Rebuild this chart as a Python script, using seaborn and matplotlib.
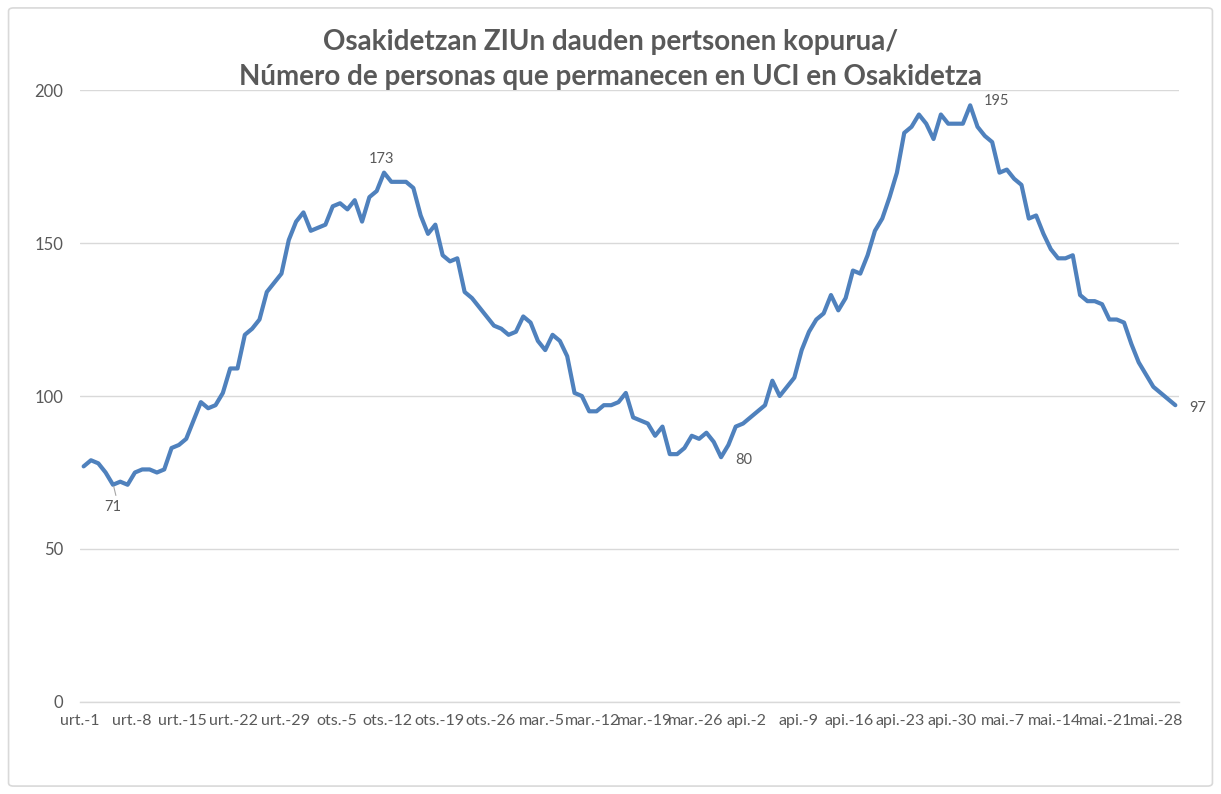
import numpy as np
import pandas as pd
import matplotlib
matplotlib.use("Agg")
import matplotlib.pyplot as plt
import seaborn as sns
from matplotlib.patches import FancyBboxPatch

# Datos: personas en UCI, un valor por dia desde el 1 de enero
fechas = pd.date_range("2021-01-01", periods=150, freq="D")
uci = [77, 79, 78, 75, 71, 72, 71, 75, 76, 76,
       75, 76, 83, 84, 86, 92, 98, 96, 97, 101,
       109, 109, 120, 122, 125, 134, 137, 140, 151, 157,
       160, 154, 155, 156, 162, 163, 161, 164, 157, 165,
       167, 173, 170, 170, 170, 168, 159, 153, 156, 146,
       144, 145, 134, 132, 129, 126, 123, 122, 120, 121,
       126, 124, 118, 115, 120, 118, 113, 101, 100, 95,
       95, 97, 97, 98, 101, 93, 92, 91, 87, 90,
       81, 81, 83, 87, 86, 88, 85, 80, 84, 90,
       91, 93, 95, 97, 105, 100, 103, 106, 115, 121,
       125, 127, 133, 128, 132, 141, 140, 146, 154, 158,
       165, 173, 186, 188, 192, 189, 184, 192, 189, 189,
       189, 195, 188, 185, 183, 173, 174, 171, 169, 158,
       159, 153, 148, 145, 145, 146, 133, 131, 131, 130,
       125, 125, 124, 117, 111, 107, 103, 101, 99, 97]

# meses en euskera
meses_eus = {1: "urt.", 2: "ots.", 3: "mar.", 4: "api.", 5: "mai."}

# puntos etiquetados (indice del dia)
etiquetas = [4, 41, 87, 121, 149]

df = pd.DataFrame({"dia": np.arange(len(uci)), "fecha": fechas, "uci": uci})

sns.set_theme(style="white")
plt.rcParams["font.family"] = ["Lato", "DejaVu Sans"]

gris = "#595959"
azul = "#4F81BD"

fig = plt.figure(figsize=(12.21, 7.94), dpi=100)
ax = fig.add_axes([0.0655, 0.1159, 0.9001, 0.7707])

# borde del grafico
fig.patches.append(FancyBboxPatch((0.007, 0.01), 0.986, 0.98,
                                  boxstyle="round,pad=0,rounding_size=0.004",
                                  transform=fig.transFigure, fill=False,
                                  edgecolor="#D9D9D9", linewidth=1.2))

sns.lineplot(data=df, x="dia", y="uci", color=azul, linewidth=3.0, ax=ax)

ax.set_xlim(-0.5, len(uci) - 0.5)
ax.set_ylim(0, 200)
ax.set_yticks([0, 50, 100, 150, 200])
ax.yaxis.grid(True, color="#D9D9D9", linewidth=1)
ax.set_axisbelow(True)

ticks = df["dia"][::7]
ax.set_xticks(ticks - 0.5)
ax.set_xticklabels([f"{meses_eus[f.month]}-{f.day}" for f in df["fecha"][::7]])

for lado in ["top", "right", "left"]:
    ax.spines[lado].set_visible(False)
ax.spines["bottom"].set_color("#D9D9D9")
ax.spines["bottom"].set_linewidth(1)
ax.tick_params(axis="x", length=5, color="#D9D9D9", direction="out",
               labelsize=11.5, labelcolor=gris, pad=4)
ax.tick_params(axis="y", length=0, labelsize=12, labelcolor=gris, pad=12)
ax.set_xlabel("")
ax.set_ylabel("")

# etiquetas de datos
desplaz = {4: (0, -22, "center", "center"), 41: (-3, 14, "center", "center"),
           87: (14, -3, "left", "center"), 121: (14, 4, "left", "center"),
           149: (14, -3, "left", "center")}
for i in etiquetas:
    dx, dy, ha, va = desplaz[i]
    ax.annotate(str(uci[i]), (df["dia"][i], uci[i]), xytext=(dx * 0.72, dy * 0.72),
                textcoords="offset points", ha=ha, va=va, fontsize=10.5, color=gris)
ax.plot([4.1, 4.4], [70.5, 67.5], color="#A6A6A6", linewidth=0.8)

fig.text(0.5, 0.947, "Osakidetzan ZIUn dauden pertsonen kopurua/", ha="center", va="center",
         fontsize=20, fontweight="bold", color=gris)
fig.text(0.5, 0.903, "Número de personas que permanecen en UCI en Osakidetza", ha="center",
         va="center", fontsize=20, fontweight="bold", color=gris)

fig.savefig("out.png", dpi=100)
